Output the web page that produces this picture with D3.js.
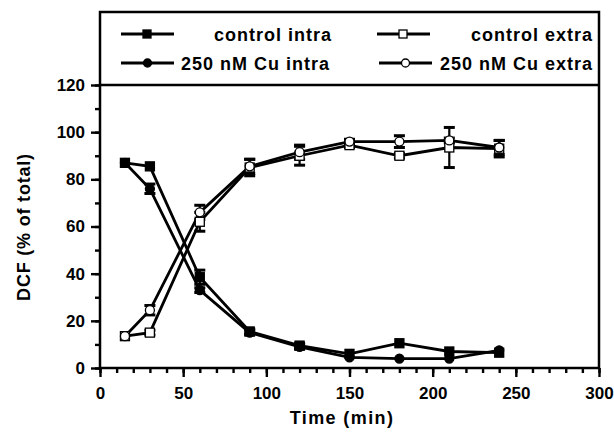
<!DOCTYPE html>
<html><head><meta charset="utf-8">
<script src="https://cdn.jsdelivr.net/npm/d3@7"></script>
<style>body{margin:0;background:#fff}svg{display:block}text{font-family:"Liberation Sans",Arial,sans-serif;font-weight:bold}</style>
</head><body><svg id="c" width="614" height="432"></svg>
<script>
const times = [15, 30, 60, 90, 120, 150, 180, 210, 240];
const controlIntra = [87, 85.5, 38.5, 15.5, 9.5, 6, 10.5, 7, 6.5];
const cuIntra = [87, 76, 33, 15, 9, 4.5, 4, 4, 7.5];
const controlExtra = [13.5, 15, 62, 85, 90, 94.5, 90, 93.5, 93];
const cuExtra = [13.5, 24.5, 66, 85.5, 91.5, 96, 96, 96.5, 93.5];
const controlIntraErr = [0.5, 0.5, 3, 1, 1, 0.5, 0.5, 0.5, 0.5];
const cuIntraErr = [0.5, 2, 1, 1, 1, 0.5, 0.5, 0.5, 0.5];
const controlExtraErr = [0.5, 1, 4, 3.5, 4, 1, 1, 8.5, 3.5];
const cuExtraErr = [0.5, 2, 3, 3, 3, 1, 2.5, 1, 3];
const seriesNames = ["control intra", "control extra", "250 nM Cu intra", "250 nM Cu extra"];
const xTicks = [0, 50, 100, 150, 200, 250, 300];
const yTicks = [0, 20, 40, 60, 80, 100, 120];

const svg = d3.select("#c");
const L = 100, R = 599, T = 85, B = 368, legTop = 12;
const x = d3.scaleLinear().domain([0, 300]).range([L, R]);
const y = d3.scaleLinear().domain([0, 120]).range([B, T]);

// frame
svg.append("rect").attr("x", L).attr("y", legTop).attr("width", R - L).attr("height", B - legTop)
  .attr("fill", "none").attr("stroke", "#000").attr("stroke-width", 2.5);
svg.append("line").attr("x1", L).attr("x2", R).attr("y1", T).attr("y2", T).attr("stroke", "#000").attr("stroke-width", 2.5);

// axes
const xAxisMinor = d3.axisBottom(x).tickValues(d3.range(0, 301, 10)).tickSize(5).tickFormat("");
const xAxis = d3.axisBottom(x).tickValues(xTicks).tickSize(9).tickPadding(10);
const yAxisMinor = d3.axisLeft(y).tickValues(d3.range(0, 121, 10)).tickSize(5).tickFormat("");
const yAxis = d3.axisLeft(y).tickValues(yTicks).tickSize(9).tickPadding(6);
function styleAx(g){ g.select(".domain").remove(); g.selectAll("line").attr("stroke-width", 2.4); g.selectAll("text").attr("font-size", 17).attr("font-weight", "bold").attr("fill", "#000"); }
svg.append("g").attr("transform", `translate(0,${B})`).call(xAxisMinor).call(styleAx);
svg.append("g").attr("transform", `translate(0,${B})`).call(xAxis).call(styleAx);
svg.append("g").attr("transform", `translate(${L},0)`).call(yAxisMinor).call(styleAx);
svg.append("g").attr("transform", `translate(${L},0)`).call(yAxis).call(styleAx);

svg.append("text").attr("x", 342).attr("y", 424).attr("text-anchor", "middle").attr("font-size", 18)
  .attr("letter-spacing", 1.4).text("Time (min)");
svg.append("text").attr("transform", `translate(30,227) rotate(-90)`).attr("text-anchor", "middle").attr("font-size", 18)
  .attr("letter-spacing", 0.8).text("DCF (% of total)");

const series = [
  {vals: controlIntra, err: controlIntraErr, shape: "square", fill: "#000"},
  {vals: controlExtra, err: controlExtraErr, shape: "square", fill: "#fff"},
  {vals: cuIntra, err: cuIntraErr, shape: "circle", fill: "#000"},
  {vals: cuExtra, err: cuExtraErr, shape: "circle", fill: "#fff"}
];
const line = d3.line().x((d, i) => x(times[i])).y(d => y(d));
function marker(g, shape, fill, cx, cy){
  if (shape === "square") g.append("rect").attr("x", cx - 4.5).attr("y", cy - 4.5).attr("width", 9).attr("height", 9)
    .attr("fill", fill).attr("stroke", "#000").attr("stroke-width", 1.3);
  else g.append("circle").attr("cx", cx).attr("cy", cy).attr("r", 4.5).attr("fill", fill).attr("stroke", "#000").attr("stroke-width", 1.3);
}
const plot = svg.append("g");
series.forEach(s => {
  plot.append("path").datum(s.vals).attr("d", line).attr("fill", "none").attr("stroke", "#000").attr("stroke-width", 2.8);
  s.vals.forEach((v, i) => {
    const cx = x(times[i]), e = s.err[i];
    if (e > 0.6) {
      plot.append("line").attr("x1", cx).attr("x2", cx).attr("y1", y(v + e)).attr("y2", y(v - e)).attr("stroke", "#000").attr("stroke-width", 2.2);
      [v + e, v - e].forEach(w => plot.append("line").attr("x1", cx - 5.5).attr("x2", cx + 5.5).attr("y1", y(w)).attr("y2", y(w)).attr("stroke", "#000").attr("stroke-width", 3));
    }
  });
});
series.forEach(s => s.vals.forEach((v, i) => marker(plot, s.shape, s.fill, x(times[i]), y(v))));

// legend
const leg = [
  {s: series[0], name: seriesNames[0], lx: 121, ty: 34, tx: 332},
  {s: series[1], name: seriesNames[1], lx: 377, ty: 34, tx: 593},
  {s: series[2], name: seriesNames[2], lx: 121, ty: 63, tx: 330},
  {s: series[3], name: seriesNames[3], lx: 379, ty: 63, tx: 593}
];
leg.forEach(d => {
  svg.append("line").attr("x1", d.lx).attr("x2", d.lx + 53).attr("y1", d.ty).attr("y2", d.ty).attr("stroke", "#000").attr("stroke-width", 2.8);
  const g = svg.append("g");
  if (d.s.shape === "square") g.append("rect").attr("x", d.lx + 22).attr("y", d.ty - 4).attr("width", 8).attr("height", 8).attr("fill", d.s.fill).attr("stroke", "#000").attr("stroke-width", 1.3);
  else g.append("circle").attr("cx", d.lx + 26.5).attr("cy", d.ty).attr("r", 4).attr("fill", d.s.fill).attr("stroke", "#000").attr("stroke-width", 1.3);
  svg.append("text").attr("x", d.tx).attr("y", d.ty + 7).attr("text-anchor", "end").attr("font-size", 18)
    .attr("letter-spacing", 1).attr("font-weight", "bold").text(d.name);
});
</script></body></html>
